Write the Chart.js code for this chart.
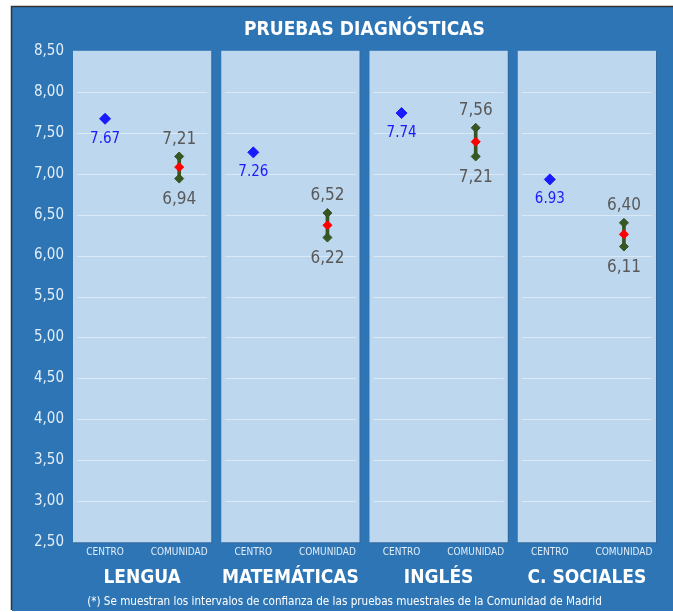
<!DOCTYPE html>
<html>
<head>
<meta charset="utf-8">
<script src="https://cdn.jsdelivr.net/npm/chart.js@4.4.1/dist/chart.umd.min.js"></script>
<style>
  html, body { margin: 0; padding: 0; background: #ffffff; }
  #wrap { width: 673px; height: 612px; position: relative; }
</style>
</head>
<body>
<div id="wrap"><canvas id="c" width="673" height="612"></canvas></div>
<script>
// ---- data ----
const categories = ['LENGUA', 'MATEMÁTICAS', 'INGLÉS', 'C. SOCIALES'];
const subLabels = ['CENTRO', 'COMUNIDAD'];
const centroValues = [7.67, 7.26, 7.74, 6.93];
const comunidadLow = [6.94, 6.22, 7.21, 6.11];
const comunidadHigh = [7.21, 6.52, 7.56, 6.40];
const comunidadMean = [7.08, 6.37, 7.39, 6.26];
const yMin = 2.5, yMax = 8.5, yStep = 0.5;
const titleText = 'PRUEBAS DIAGNÓSTICAS';
const footText = '(*) Se muestran los intervalos de confianza de las pruebas muestrales de la Comunidad de Madrid';

// ---- derived ----
const xLabels = categories.flatMap(() => subLabels);
const centroData = categories.flatMap((c, i) => [centroValues[i], null]);
const lowData = categories.flatMap((c, i) => [null, comunidadLow[i]]);
const highData = categories.flatMap((c, i) => [null, comunidadHigh[i]]);
const meanData = categories.flatMap((c, i) => [null, comunidadMean[i]]);
const rangeData = categories.flatMap((c, i) => [null, [comunidadLow[i], comunidadHigh[i]]]);

const FONT = '"Liberation Sans Narrow", "DejaVu Sans Condensed", "Roboto Condensed", "Liberation Sans", sans-serif';
const BLUE = '#2E75B6';
const PANEL = '#BDD7EE';

const bgPlugin = {
  id: 'bg',
  beforeDraw(chart) {
    const ctx = chart.ctx;
    ctx.save();
    ctx.fillStyle = '#ffffff';
    ctx.fillRect(0, 0, chart.width, chart.height);
    ctx.fillStyle = BLUE;
    ctx.fillRect(12, 7, chart.width - 12, chart.height - 8);
    ctx.strokeStyle = '#333333';
    ctx.lineWidth = 1.5;
    ctx.beginPath();
    ctx.moveTo(11.5, 610);
    ctx.lineTo(11.5, 6.5);
    ctx.lineTo(chart.width, 6.5);
    ctx.stroke();
    // panels
    const x = chart.scales.x, y = chart.scales.y;
    const colW = (x.right - x.left) / xLabels.length;
    const top = y.getPixelForValue(yMax), bot = y.getPixelForValue(yMin);
    categories.forEach((c, g) => {
      const l = x.getPixelForTick(2 * g) - colW / 2 + 5;
      const r = x.getPixelForTick(2 * g + 1) + colW / 2 - 5;
      ctx.fillStyle = 'rgba(60,80,110,0.35)';
      ctx.fillRect(l + 1, top + 1, r - l, bot - top);
      ctx.fillStyle = PANEL;
      ctx.fillRect(l, top, r - l, bot - top);
      ctx.strokeStyle = 'rgba(255,255,255,0.45)';
      ctx.lineWidth = 1;
      y.ticks.forEach(t => {
        const py = Math.round(y.getPixelForValue(t.value)) + 0.5;
        if (py > top + 2 && py < bot - 2) {
          ctx.beginPath();
          ctx.moveTo(l + 4, py);
          ctx.lineTo(r - 4, py);
          ctx.stroke();
        }
      });
    });
    ctx.restore();
  }
};

const labelPlugin = {
  id: 'labels',
  afterDatasetsDraw(chart) {
    const ctx = chart.ctx;
    ctx.save();
    ctx.textAlign = 'center';
    ctx.textBaseline = 'middle';
    const mC = chart.getDatasetMeta(1);
    const mH = chart.getDatasetMeta(2);
    const mL = chart.getDatasetMeta(3);
    categories.forEach((c, g) => {
      const pc = mC.data[2 * g];
      ctx.font = '15px ' + FONT;
      ctx.fillStyle = '#1a1aff';
      ctx.fillText(centroValues[g].toFixed(2), pc.x, pc.y + 20);
      const ph = mH.data[2 * g + 1];
      const pl = mL.data[2 * g + 1];
      ctx.font = '17px ' + FONT;
      ctx.fillStyle = '#595959';
      ctx.fillText(comunidadHigh[g].toFixed(2).replace('.', ','), ph.x, ph.y - 17);
      ctx.fillText(comunidadLow[g].toFixed(2).replace('.', ','), pl.x, pl.y + 21);
    });
    ctx.restore();
  }
};

new Chart(document.getElementById('c'), {
  type: 'bar',
  data: {
    labels: xLabels,
    datasets: [
      { type: 'bar', data: rangeData, backgroundColor: '#375623', barThickness: 3, order: 5 },
      { type: 'line', data: centroData, showLine: false, pointStyle: 'rectRot', pointRadius: 5.5,
        pointBackgroundColor: '#1a1aff', pointBorderColor: '#1a1aff', order: 1 },
      { type: 'line', data: highData, showLine: false, pointStyle: 'rectRot', pointRadius: 4.5,
        pointBackgroundColor: '#375623', pointBorderColor: '#375623', order: 2 },
      { type: 'line', data: lowData, showLine: false, pointStyle: 'rectRot', pointRadius: 4.5,
        pointBackgroundColor: '#375623', pointBorderColor: '#375623', order: 2 },
      { type: 'line', data: meanData, showLine: false, pointStyle: 'rectRot', pointRadius: 4.5,
        pointBackgroundColor: '#ff0000', pointBorderColor: '#ff0000', order: 0 }
    ]
  },
  options: {
    responsive: false,
    animation: false,
    layout: { padding: { left: 28, right: 12, top: 19, bottom: 3 } },
    plugins: {
      legend: { display: false },
      tooltip: { enabled: false },
      title: {
        display: true, text: titleText, color: '#ffffff', fullSize: false,
        font: { family: FONT, size: 19, weight: 'bold' }, padding: { top: 0, bottom: 9 }
      },
      subtitle: {
        display: true, text: footText, position: 'bottom', color: '#ffffff',
        font: { family: FONT, size: 11.6 }, padding: { top: 2, bottom: 0 }
      }
    },
    scales: {
      y: {
        min: yMin, max: yMax,
        ticks: { stepSize: yStep, color: '#E3EEF8', font: { family: FONT, size: 15 }, padding: 4,
          callback: v => v.toFixed(2).replace('.', ',') },
        grid: { display: false, drawTicks: false },
        border: { display: false },
        afterFit: s => { s.width = 40; }
      },
      x: {
        offset: true,
        ticks: { color: '#E3EEF8', font: { family: FONT, size: 10 }, padding: 4, maxRotation: 0, autoSkip: false },
        grid: { display: false, drawTicks: false },
        border: { display: false },
        weight: 0
      },
      x2: {
        type: 'category', labels: categories, position: 'bottom', offset: true,
        ticks: { color: '#ffffff', font: { family: FONT, size: 19, weight: 'bold' }, padding: 4, maxRotation: 0, autoSkip: false },
        grid: { display: false, drawTicks: false },
        border: { display: false },
        weight: 1
      }
    }
  },
  plugins: [bgPlugin, labelPlugin]
});
</script>
</body>
</html>
